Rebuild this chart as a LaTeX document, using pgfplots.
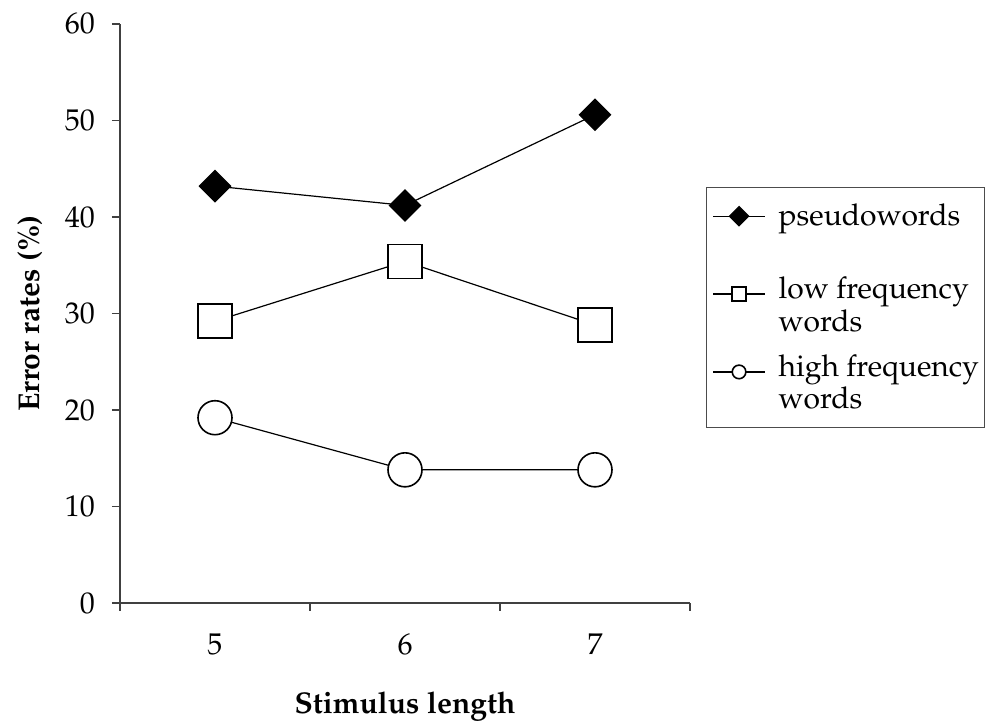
\documentclass[border=0pt]{standalone}
\usepackage[T1]{fontenc}
\usepackage{mathpazo}
\usepackage{pgfplots}
\pgfplotsset{compat=1.18}
\begin{document}
\begin{tikzpicture}
\path[use as bounding box] (-60pt,-62pt) rectangle (437.5pt,301.5pt);
\begin{axis}[
  at={(0pt,0pt)}, anchor=south west,
  scale only axis, width=285pt, height=289.5pt,
  xmin=4.5, xmax=7.5, ymin=0, ymax=60,
  ytick={0,10,...,60},
  xtick={4.5,5.5,6.5,7.5}, xticklabels={},
  extra x ticks={5,6,7}, extra x tick labels={5,6,7},
  extra x tick style={major tick length=0pt, xticklabel style={yshift=-12pt}},
  axis x line*=bottom, axis y line*=left,
  axis line style={draw=black!75, line width=0.6pt},
  tick style={draw=black!75, line width=0.6pt},
  tick align=outside, major tick length=4pt,
  tick label style={font=\fontsize{15}{15}\selectfont},
  yticklabel style={xshift=-5pt},
  every axis y label/.style={at={(axis description cs:-0.158,0.5)}, rotate=90, anchor=center, font=\fontsize{15}{15}\selectfont\bfseries},
  every axis x label/.style={at={(axis description cs:0.5,-0.178)}, anchor=center, font=\fontsize{15}{15}\selectfont\bfseries},
  xlabel={Stimulus length},
  ylabel={Error rates (\%)},
  legend style={at={(axis description cs:1.028,0.7185)}, anchor=north west,
    draw=black!70, line width=0.5pt,
    font=\fontsize{15}{14}\selectfont,
    cells={anchor=base west, align=left},
    nodes={inner sep=0pt},
    inner xsep=3pt, inner ysep=8pt, row sep=10.5pt,
    /tikz/every odd column/.append style={column sep=6.5pt}},
  legend image code/.code={\draw[mark repeat=2,mark phase=2,#1,mark size=3.4pt,yshift=18.5pt] plot coordinates {(0pt,0pt) (13pt,0pt) (26pt,0pt)};},
]
\addplot[black, line width=0.6pt, mark=square*, mark size=5.5pt, mark options={rotate=45, fill=black}]
  coordinates {(5,43.2) (6,41.2) (7,50.6)};
\addlegendentry{pseudowords\\\rule[-7.7pt]{0pt}{7.7pt}}
\addplot[black, line width=0.6pt, mark=square*, mark size=8.5pt, mark options={fill=white, line width=0.8pt}]
  coordinates {(5,29.2) (6,35.4) (7,28.8)};
\addlegendentry{low frequency\\words}
\addplot[black, line width=0.6pt, mark=*, mark size=8.5pt, mark options={fill=white, line width=0.8pt}]
  coordinates {(5,19.2) (6,13.8) (7,13.8)};
\addlegendentry{high frequency\hspace{2pt}\\words}
\end{axis}
\end{tikzpicture}
\end{document}
